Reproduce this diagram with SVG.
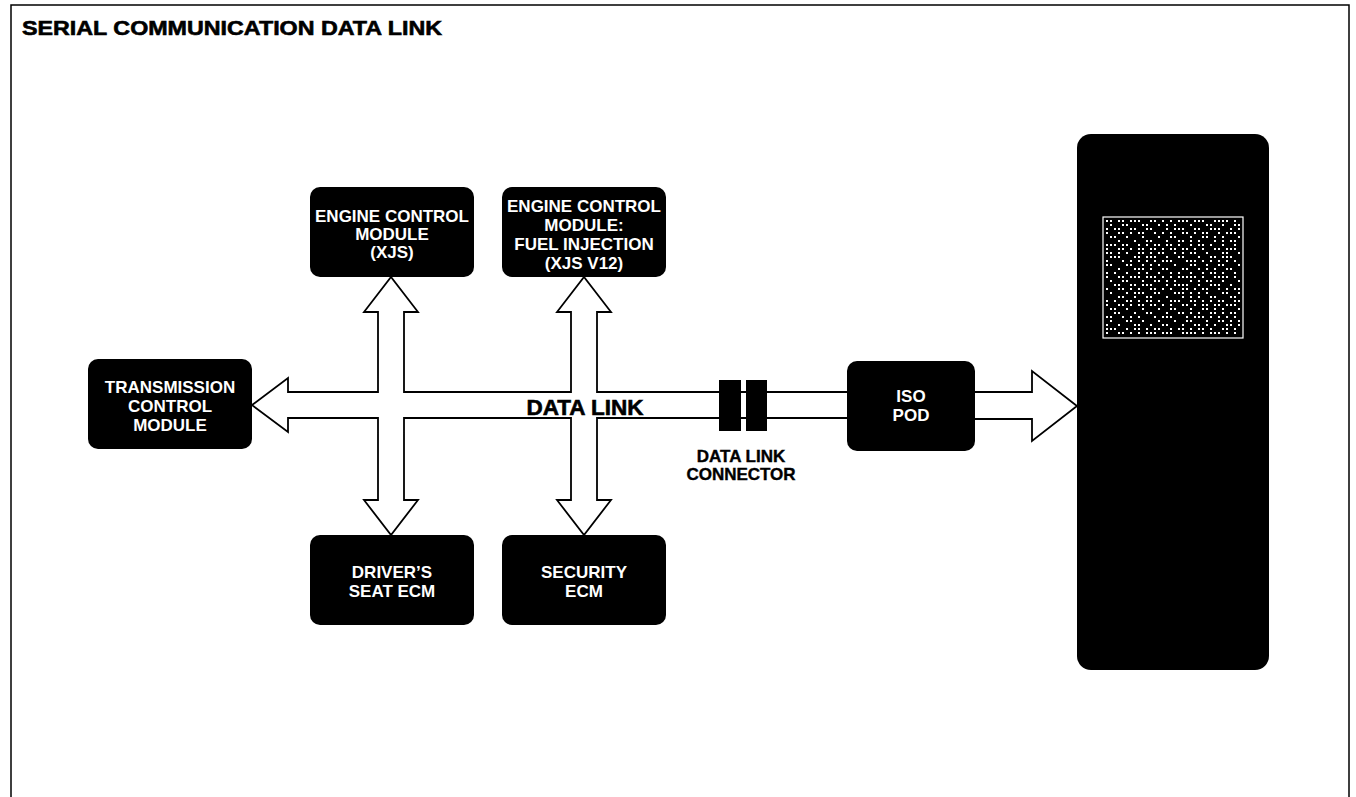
<svg xmlns="http://www.w3.org/2000/svg" width="1356" height="797" viewBox="0 0 1356 797">
  <style>
    .node { fill: #000; }
    .lbl { font-family: "Liberation Sans", Arial, sans-serif; font-weight: bold; font-size: 17px; fill: #fff; text-anchor: middle; }
    .dark { font-family: "Liberation Sans", Arial, sans-serif; font-weight: bold; fill: #000; text-anchor: middle; }
    .heavy { stroke: #000; stroke-width: 0.6; }
    .arrow { fill: #fff; stroke: #000; stroke-width: 1.8; stroke-linejoin: miter; }
  </style>
  <defs>
    <pattern id="dotsA" patternUnits="userSpaceOnUse" x="1105" y="219" width="32" height="28">
      <path fill="#fff" d="M1,1h2v2h-2z M13,1h2v2h-2z M17,1h2v2h-2z M25,1h2v2h-2z M5,5h2v2h-2z M21,5h2v2h-2z M9,9h2v2h-2z M13,9h2v2h-2z M29,9h2v2h-2z M1,13h2v2h-2z M17,13h2v2h-2z M25,13h2v2h-2z M5,17h2v2h-2z M21,17h2v2h-2z M13,21h2v2h-2z M29,21h2v2h-2z M1,25h2v2h-2z M9,25h2v2h-2z M21,25h2v2h-2z"/>
    </pattern>
    <pattern id="dotsB" patternUnits="userSpaceOnUse" x="1105" y="219" width="44" height="36">
      <path fill="#fff" d="M5,1h2v2h-2z M29,1h2v2h-2z M33,1h2v2h-2z M17,5h2v2h-2z M41,5h2v2h-2z M1,9h2v2h-2z M25,9h2v2h-2z M13,13h2v2h-2z M33,13h2v2h-2z M37,13h2v2h-2z M9,17h2v2h-2z M21,17h2v2h-2z M29,21h2v2h-2z M41,21h2v2h-2z M5,25h2v2h-2z M17,25h2v2h-2z M25,29h2v2h-2z M37,29h2v2h-2z M1,33h2v2h-2z M13,33h2v2h-2z M33,33h2v2h-2z"/>
    </pattern>
  </defs>
  <rect width="1356" height="797" fill="#fff"/>
  <path d="M11,797 V5 H1349 V797" fill="none" stroke="#000" stroke-width="1.5"/>
  <text x="22" y="35" class="dark heavy" style="font-size:20px;text-anchor:start" textLength="420" lengthAdjust="spacingAndGlyphs">SERIAL COMMUNICATION DATA LINK</text>

  <g id="connectors">
    <path class="arrow" d="M252,405 L288,378 L288,392 L378,392 L378,312 L364,312 L391,277 L418,312 L404,312 L404,392 L571,392 L571,312 L557,312 L584,277 L611,312 L597,312 L597,392 L850,392 L850,418 L597,418 L597,500 L611,500 L584,535 L557,500 L571,500 L571,418 L404,418 L404,500 L418,500 L391,535 L364,500 L378,500 L378,418 L288,418 L288,432 Z"/>
    <path class="arrow" d="M970,392 L1032,392 L1032,371 L1077,406 L1032,441 L1032,419 L970,419 Z"/>
    <text x="585" y="414.5" class="dark heavy" style="font-size:22.5px">DATA LINK</text>
  </g>

  <g id="data-link-connector">
    <rect x="719" y="380" width="22" height="51" fill="#000"/>
    <rect x="746" y="380" width="21" height="51" fill="#000"/>
    <text x="741" y="462" class="dark heavy" style="font-size:17px;stroke-width:0.4">DATA LINK</text>
    <text x="741" y="480" class="dark heavy" style="font-size:17px;stroke-width:0.4">CONNECTOR</text>
  </g>

  <g id="ecm-xjs">
    <rect class="node" x="310" y="187" width="164" height="90" rx="10"/>
    <text class="lbl" x="392" y="222">ENGINE CONTROL</text>
    <text class="lbl" x="392" y="240">MODULE</text>
    <text class="lbl" x="392" y="258">(XJS)</text>
  </g>

  <g id="ecm-fuel-injection">
    <rect class="node" x="502" y="187" width="164" height="90" rx="10"/>
    <text class="lbl" x="584" y="212">ENGINE CONTROL</text>
    <text class="lbl" x="584" y="231">MODULE:</text>
    <text class="lbl" x="584" y="250">FUEL INJECTION</text>
    <text class="lbl" x="584" y="269">(XJS V12)</text>
  </g>

  <g id="tcm">
    <rect class="node" x="88" y="359" width="164" height="90" rx="10"/>
    <text class="lbl" x="170" y="393">TRANSMISSION</text>
    <text class="lbl" x="170" y="412">CONTROL</text>
    <text class="lbl" x="170" y="431">MODULE</text>
  </g>

  <g id="drivers-seat-ecm">
    <rect class="node" x="310" y="535" width="164" height="90" rx="10"/>
    <text class="lbl" x="392" y="578">DRIVER’S</text>
    <text class="lbl" x="392" y="597">SEAT ECM</text>
  </g>

  <g id="security-ecm">
    <rect class="node" x="502" y="535" width="164" height="90" rx="10"/>
    <text class="lbl" x="584" y="578">SECURITY</text>
    <text class="lbl" x="584" y="597">ECM</text>
  </g>

  <g id="iso-pod">
    <rect class="node" x="847" y="361" width="128" height="90" rx="10"/>
    <text class="lbl" x="911" y="402">ISO</text>
    <text class="lbl" x="911" y="421">POD</text>
  </g>

  <g id="tester">
    <rect class="node" x="1077" y="134" width="192" height="536" rx="14"/>
    <rect x="1103" y="217" width="140" height="121" fill="#000" stroke="#fff" stroke-width="1.2"/>
    <rect x="1105" y="219" width="136" height="117" fill="url(#dotsA)"/>
    <rect x="1105" y="219" width="136" height="117" fill="url(#dotsB)"/>
  </g>
</svg>
